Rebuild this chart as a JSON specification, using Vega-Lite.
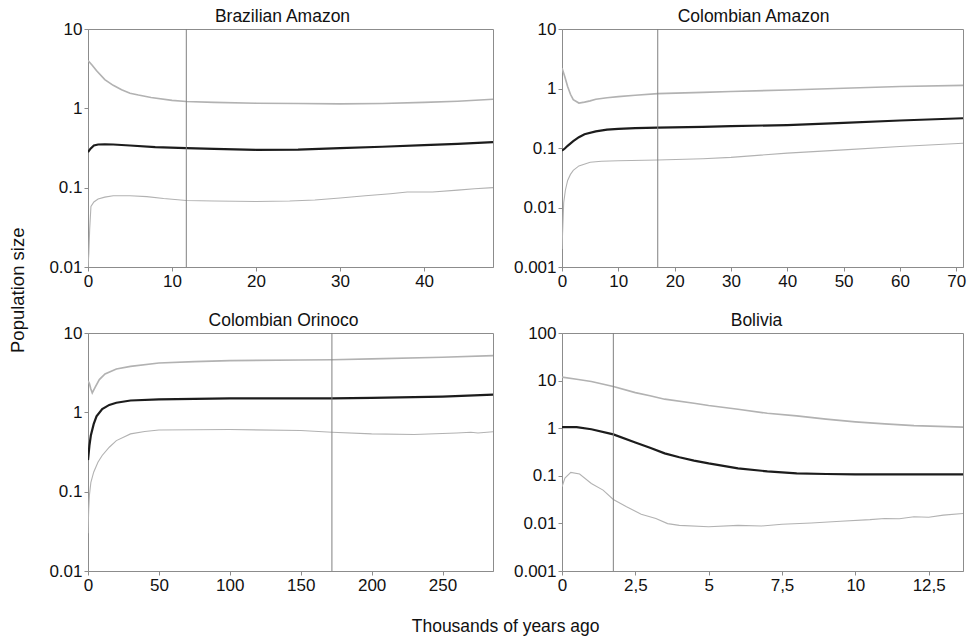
{
  "$schema": "https://vega.github.io/schema/vega-lite/v6.json",
  "background": "white",
  "padding": {"left": 9, "top": 7, "right": 3, "bottom": 2},
  "datasets": {
    "BA": [
      {"series":"median","t":0,"n":0.28},{"series":"median","t":0.3,"n":0.31},{"series":"median","t":0.7,"n":0.34},{"series":"median","t":1.2,"n":0.35},{"series":"median","t":2,"n":0.352},{"series":"median","t":3,"n":0.35},{"series":"median","t":5,"n":0.34},{"series":"median","t":8,"n":0.325},{"series":"median","t":11.7,"n":0.315},{"series":"median","t":15,"n":0.308},{"series":"median","t":20,"n":0.3},{"series":"median","t":25,"n":0.302},{"series":"median","t":30,"n":0.315},{"series":"median","t":35,"n":0.328},{"series":"median","t":40,"n":0.343},{"series":"median","t":44,"n":0.356},{"series":"median","t":48.2,"n":0.374},
      {"series":"upper","t":0,"n":4.0},{"series":"upper","t":0.5,"n":3.5},{"series":"upper","t":1,"n":3.0},{"series":"upper","t":2,"n":2.3},{"series":"upper","t":3,"n":1.95},{"series":"upper","t":4,"n":1.72},{"series":"upper","t":5,"n":1.55},{"series":"upper","t":6,"n":1.47},{"series":"upper","t":7.5,"n":1.37},{"series":"upper","t":10,"n":1.26},{"series":"upper","t":11.7,"n":1.22},{"series":"upper","t":15,"n":1.19},{"series":"upper","t":20,"n":1.16},{"series":"upper","t":25,"n":1.15},{"series":"upper","t":30,"n":1.14},{"series":"upper","t":35,"n":1.15},{"series":"upper","t":40,"n":1.19},{"series":"upper","t":44,"n":1.23},{"series":"upper","t":48.2,"n":1.3},
      {"series":"lower","t":0,"n":0.01},{"series":"lower","t":0.1,"n":0.015},{"series":"lower","t":0.2,"n":0.03},{"series":"lower","t":0.35,"n":0.058},{"series":"lower","t":0.7,"n":0.066},{"series":"lower","t":1.2,"n":0.072},{"series":"lower","t":2,"n":0.076},{"series":"lower","t":3,"n":0.079},{"series":"lower","t":5,"n":0.079},{"series":"lower","t":7,"n":0.077},{"series":"lower","t":9,"n":0.073},{"series":"lower","t":11.7,"n":0.069},{"series":"lower","t":15,"n":0.068},{"series":"lower","t":20,"n":0.067},{"series":"lower","t":24,"n":0.068},{"series":"lower","t":27,"n":0.07},{"series":"lower","t":30,"n":0.074},{"series":"lower","t":33,"n":0.079},{"series":"lower","t":36,"n":0.084},{"series":"lower","t":38,"n":0.088},{"series":"lower","t":41,"n":0.088},{"series":"lower","t":44,"n":0.093},{"series":"lower","t":46,"n":0.097},{"series":"lower","t":48.2,"n":0.1}
    ],
    "CA": [
      {"series":"median","t":0,"n":0.09},{"series":"median","t":0.5,"n":0.098},{"series":"median","t":1,"n":0.109},{"series":"median","t":2,"n":0.13},{"series":"median","t":3,"n":0.152},{"series":"median","t":4,"n":0.17},{"series":"median","t":6,"n":0.19},{"series":"median","t":8,"n":0.203},{"series":"median","t":10,"n":0.21},{"series":"median","t":13,"n":0.216},{"series":"median","t":17,"n":0.22},{"series":"median","t":25,"n":0.227},{"series":"median","t":30,"n":0.233},{"series":"median","t":40,"n":0.243},{"series":"median","t":50,"n":0.265},{"series":"median","t":60,"n":0.29},{"series":"median","t":71.2,"n":0.316},
      {"series":"upper","t":0,"n":2.2},{"series":"upper","t":0.5,"n":1.58},{"series":"upper","t":1,"n":1.08},{"series":"upper","t":1.5,"n":0.8},{"series":"upper","t":2,"n":0.65},{"series":"upper","t":3,"n":0.57},{"series":"upper","t":4,"n":0.59},{"series":"upper","t":5,"n":0.62},{"series":"upper","t":6,"n":0.66},{"series":"upper","t":8,"n":0.7},{"series":"upper","t":10,"n":0.73},{"series":"upper","t":13,"n":0.77},{"series":"upper","t":17,"n":0.82},{"series":"upper","t":25,"n":0.86},{"series":"upper","t":30,"n":0.89},{"series":"upper","t":40,"n":0.945},{"series":"upper","t":50,"n":1.01},{"series":"upper","t":60,"n":1.08},{"series":"upper","t":71.2,"n":1.13},
      {"series":"lower","t":0,"n":0.002},{"series":"lower","t":0.15,"n":0.005},{"series":"lower","t":0.3,"n":0.012},{"series":"lower","t":0.6,"n":0.0195},{"series":"lower","t":1,"n":0.0285},{"series":"lower","t":1.5,"n":0.036},{"series":"lower","t":2,"n":0.042},{"series":"lower","t":3,"n":0.05},{"series":"lower","t":5,"n":0.0575},{"series":"lower","t":7,"n":0.06},{"series":"lower","t":10,"n":0.061},{"series":"lower","t":17,"n":0.063},{"series":"lower","t":25,"n":0.066},{"series":"lower","t":30,"n":0.0695},{"series":"lower","t":40,"n":0.082},{"series":"lower","t":50,"n":0.093},{"series":"lower","t":60,"n":0.106},{"series":"lower","t":71.2,"n":0.12}
    ],
    "CO": [
      {"series":"median","t":0,"n":0.25},{"series":"median","t":1,"n":0.38},{"series":"median","t":2,"n":0.51},{"series":"median","t":4,"n":0.71},{"series":"median","t":6,"n":0.89},{"series":"median","t":10,"n":1.1},{"series":"median","t":15,"n":1.24},{"series":"median","t":20,"n":1.32},{"series":"median","t":30,"n":1.41},{"series":"median","t":50,"n":1.46},{"series":"median","t":100,"n":1.5},{"series":"median","t":172,"n":1.5},{"series":"median","t":200,"n":1.52},{"series":"median","t":250,"n":1.58},{"series":"median","t":285.6,"n":1.67},
      {"series":"upper","t":0,"n":2.5},{"series":"upper","t":1,"n":2.3},{"series":"upper","t":2,"n":1.97},{"series":"upper","t":3,"n":1.76},{"series":"upper","t":5,"n":2.07},{"series":"upper","t":8,"n":2.59},{"series":"upper","t":12,"n":3.05},{"series":"upper","t":20,"n":3.52},{"series":"upper","t":30,"n":3.8},{"series":"upper","t":50,"n":4.19},{"series":"upper","t":75,"n":4.36},{"series":"upper","t":100,"n":4.49},{"series":"upper","t":150,"n":4.57},{"series":"upper","t":172,"n":4.6},{"series":"upper","t":200,"n":4.71},{"series":"upper","t":250,"n":4.94},{"series":"upper","t":285.6,"n":5.18},
      {"series":"lower","t":0,"n":0.03},{"series":"lower","t":0.5,"n":0.06},{"series":"lower","t":1,"n":0.09},{"series":"lower","t":2,"n":0.13},{"series":"lower","t":4,"n":0.176},{"series":"lower","t":7,"n":0.235},{"series":"lower","t":10,"n":0.286},{"series":"lower","t":15,"n":0.363},{"series":"lower","t":20,"n":0.44},{"series":"lower","t":30,"n":0.535},{"series":"lower","t":40,"n":0.573},{"series":"lower","t":50,"n":0.6},{"series":"lower","t":100,"n":0.607},{"series":"lower","t":150,"n":0.59},{"series":"lower","t":172,"n":0.56},{"series":"lower","t":200,"n":0.535},{"series":"lower","t":230,"n":0.525},{"series":"lower","t":260,"n":0.55},{"series":"lower","t":270,"n":0.56},{"series":"lower","t":275,"n":0.55},{"series":"lower","t":285.6,"n":0.57}
    ],
    "BO": [
      {"series":"median","t":0,"n":1.05},{"series":"median","t":0.5,"n":1.05},{"series":"median","t":1,"n":0.95},{"series":"median","t":1.75,"n":0.74},{"series":"median","t":2.5,"n":0.5},{"series":"median","t":3,"n":0.39},{"series":"median","t":3.5,"n":0.296},{"series":"median","t":4,"n":0.245},{"series":"median","t":4.5,"n":0.209},{"series":"median","t":5,"n":0.182},{"series":"median","t":6,"n":0.143},{"series":"median","t":7,"n":0.124},{"series":"median","t":8,"n":0.112},{"series":"median","t":9,"n":0.109},{"series":"median","t":10,"n":0.107},{"series":"median","t":12,"n":0.107},{"series":"median","t":13.67,"n":0.107},
      {"series":"upper","t":0,"n":11.8},{"series":"upper","t":0.5,"n":10.7},{"series":"upper","t":1,"n":9.6},{"series":"upper","t":1.75,"n":7.5},{"series":"upper","t":2.5,"n":5.6},{"series":"upper","t":3,"n":4.8},{"series":"upper","t":3.5,"n":4.07},{"series":"upper","t":4.5,"n":3.35},{"series":"upper","t":5,"n":2.99},{"series":"upper","t":6,"n":2.5},{"series":"upper","t":7,"n":2.06},{"series":"upper","t":8,"n":1.82},{"series":"upper","t":9,"n":1.55},{"series":"upper","t":10,"n":1.36},{"series":"upper","t":11,"n":1.23},{"series":"upper","t":12,"n":1.13},{"series":"upper","t":13.67,"n":1.05},
      {"series":"lower","t":0,"n":0.059},{"series":"lower","t":0.1,"n":0.09},{"series":"lower","t":0.3,"n":0.118},{"series":"lower","t":0.6,"n":0.109},{"series":"lower","t":1,"n":0.069},{"series":"lower","t":1.4,"n":0.05},{"series":"lower","t":1.75,"n":0.0318},{"series":"lower","t":2.2,"n":0.0224},{"series":"lower","t":2.7,"n":0.0156},{"series":"lower","t":3.2,"n":0.0127},{"series":"lower","t":3.6,"n":0.0099},{"series":"lower","t":4,"n":0.0091},{"series":"lower","t":5,"n":0.0085},{"series":"lower","t":6,"n":0.0091},{"series":"lower","t":6.8,"n":0.0088},{"series":"lower","t":7.5,"n":0.0096},{"series":"lower","t":8.5,"n":0.0102},{"series":"lower","t":9.5,"n":0.0111},{"series":"lower","t":10.5,"n":0.012},{"series":"lower","t":11,"n":0.0127},{"series":"lower","t":11.5,"n":0.0125},{"series":"lower","t":12,"n":0.0138},{"series":"lower","t":12.5,"n":0.0135},{"series":"lower","t":13,"n":0.0149},{"series":"lower","t":13.67,"n":0.0162}
    ]
  },
  "title": {"text": "Thousands of years ago", "orient": "bottom", "anchor": "middle", "offset": 18, "dx": 18, "fontSize": 17.5},
  "vconcat": [
    {
      "title": {"text": "Population size", "orient": "left", "anchor": "middle", "offset": 5, "dx": 13, "fontSize": 18.5},
      "columns": 2,
      "spacing": {"row": 15, "column": 12},
      "resolve": {"scale": {"x": "independent", "y": "independent", "color": "independent", "strokeWidth": "independent"}},
      "concat": [
        {
          "title": {"text": "Brazilian Amazon", "offset": -5, "dx": -8},
          "width": 405, "height": 238,
          "layer": [
            {
              "data": {"name": "BA"},
              "mark": {"type": "line", "clip": true},
              "encoding": {
                "x": {"field": "t", "type": "quantitative", "scale": {"domain": [0, 48.2], "nice": false, "zero": false}, "axis": {"values": [0, 10, 20, 30, 40], "title": null}},
                "y": {"field": "n", "type": "quantitative", "scale": {"type": "log", "domain": [0.01, 10], "nice": false}, "axis": {"values": [0.01, 0.1, 1, 10], "format": "~g", "title": null}},
                "color": {"field": "series", "type": "nominal", "scale": {"domain": ["median", "upper", "lower"], "range": ["#1c1c1c", "#b2b2b2", "#b2b2b2"]}, "legend": null},
                "strokeWidth": {"field": "series", "type": "nominal", "scale": {"domain": ["median", "upper", "lower"], "range": [2.2, 1.1, 1.1]}, "legend": null}
              }
            },
            {
              "data": {"values": [{"t": 11.7}]},
              "mark": {"type": "rule", "color": "#808080", "strokeWidth": 1},
              "encoding": {"x": {"field": "t", "type": "quantitative"}}
            }
          ]
        },
        {
          "title": {"text": "Colombian Amazon", "offset": -5, "dx": -9},
          "width": 401, "height": 238,
          "layer": [
            {
              "data": {"name": "CA"},
              "mark": {"type": "line", "clip": true},
              "encoding": {
                "x": {"field": "t", "type": "quantitative", "scale": {"domain": [0, 71.2], "nice": false, "zero": false}, "axis": {"values": [0, 10, 20, 30, 40, 50, 60, 70], "title": null}},
                "y": {"field": "n", "type": "quantitative", "scale": {"type": "log", "domain": [0.001, 10], "nice": false}, "axis": {"values": [0.001, 0.01, 0.1, 1, 10], "format": "~g", "title": null}},
                "color": {"field": "series", "type": "nominal", "scale": {"domain": ["median", "upper", "lower"], "range": ["#1c1c1c", "#b2b2b2", "#b2b2b2"]}, "legend": null},
                "strokeWidth": {"field": "series", "type": "nominal", "scale": {"domain": ["median", "upper", "lower"], "range": [2.2, 1.1, 1.1]}, "legend": null}
              }
            },
            {
              "data": {"values": [{"t": 17}]},
              "mark": {"type": "rule", "color": "#808080", "strokeWidth": 1},
              "encoding": {"x": {"field": "t", "type": "quantitative"}}
            }
          ]
        },
        {
          "title": {"text": "Colombian Orinoco", "offset": -5, "dx": -7},
          "width": 405, "height": 238,
          "layer": [
            {
              "data": {"name": "CO"},
              "mark": {"type": "line", "clip": true},
              "encoding": {
                "x": {"field": "t", "type": "quantitative", "scale": {"domain": [0, 285.6], "nice": false, "zero": false}, "axis": {"values": [0, 50, 100, 150, 200, 250], "title": null}},
                "y": {"field": "n", "type": "quantitative", "scale": {"type": "log", "domain": [0.01, 10], "nice": false}, "axis": {"values": [0.01, 0.1, 1, 10], "format": "~g", "title": null}},
                "color": {"field": "series", "type": "nominal", "scale": {"domain": ["median", "upper", "lower"], "range": ["#1c1c1c", "#b2b2b2", "#b2b2b2"]}, "legend": null},
                "strokeWidth": {"field": "series", "type": "nominal", "scale": {"domain": ["median", "upper", "lower"], "range": [2.2, 1.1, 1.1]}, "legend": null}
              }
            },
            {
              "data": {"values": [{"t": 172}]},
              "mark": {"type": "rule", "color": "#808080", "strokeWidth": 1},
              "encoding": {"x": {"field": "t", "type": "quantitative"}}
            }
          ]
        },
        {
          "title": {"text": "Bolivia", "offset": -5, "dx": -6},
          "width": 401, "height": 238,
          "layer": [
            {
              "data": {"name": "BO"},
              "mark": {"type": "line", "clip": true},
              "encoding": {
                "x": {"field": "t", "type": "quantitative", "scale": {"domain": [0, 13.67], "nice": false, "zero": false}, "axis": {"values": [0, 2.5, 5, 7.5, 10, 12.5], "labelExpr": "replace(toString(datum.value), '.', ',')", "title": null}},
                "y": {"field": "n", "type": "quantitative", "scale": {"type": "log", "domain": [0.001, 100], "nice": false}, "axis": {"values": [0.001, 0.01, 0.1, 1, 10, 100], "format": "~g", "title": null}},
                "color": {"field": "series", "type": "nominal", "scale": {"domain": ["median", "upper", "lower"], "range": ["#1c1c1c", "#b2b2b2", "#b2b2b2"]}, "legend": null},
                "strokeWidth": {"field": "series", "type": "nominal", "scale": {"domain": ["median", "upper", "lower"], "range": [2.2, 1.1, 1.1]}, "legend": null}
              }
            },
            {
              "data": {"values": [{"t": 1.75}]},
              "mark": {"type": "rule", "color": "#808080", "strokeWidth": 1},
              "encoding": {"x": {"field": "t", "type": "quantitative"}}
            }
          ]
        }
      ]
    }
  ],
  "config": {
    "font": "Liberation Sans",
    "view": {"stroke": "#8c8c8c", "strokeWidth": 1},
    "axis": {"labelFont": "Liberation Sans", "labelFontSize": 17, "labelColor": "#111111", "domainColor": "#8c8c8c", "tickColor": "#8c8c8c", "tickSize": 4, "labelPadding": 2, "grid": false, "labelFlush": false, "labelOverlap": false},
    "axisY": {"minExtent": 55, "maxExtent": 55},
    "axisX": {"minExtent": 28, "maxExtent": 28},
    "title": {"font": "Liberation Sans", "fontSize": 17.5, "fontWeight": "normal", "color": "#111111", "offset": 6}
  }
}
